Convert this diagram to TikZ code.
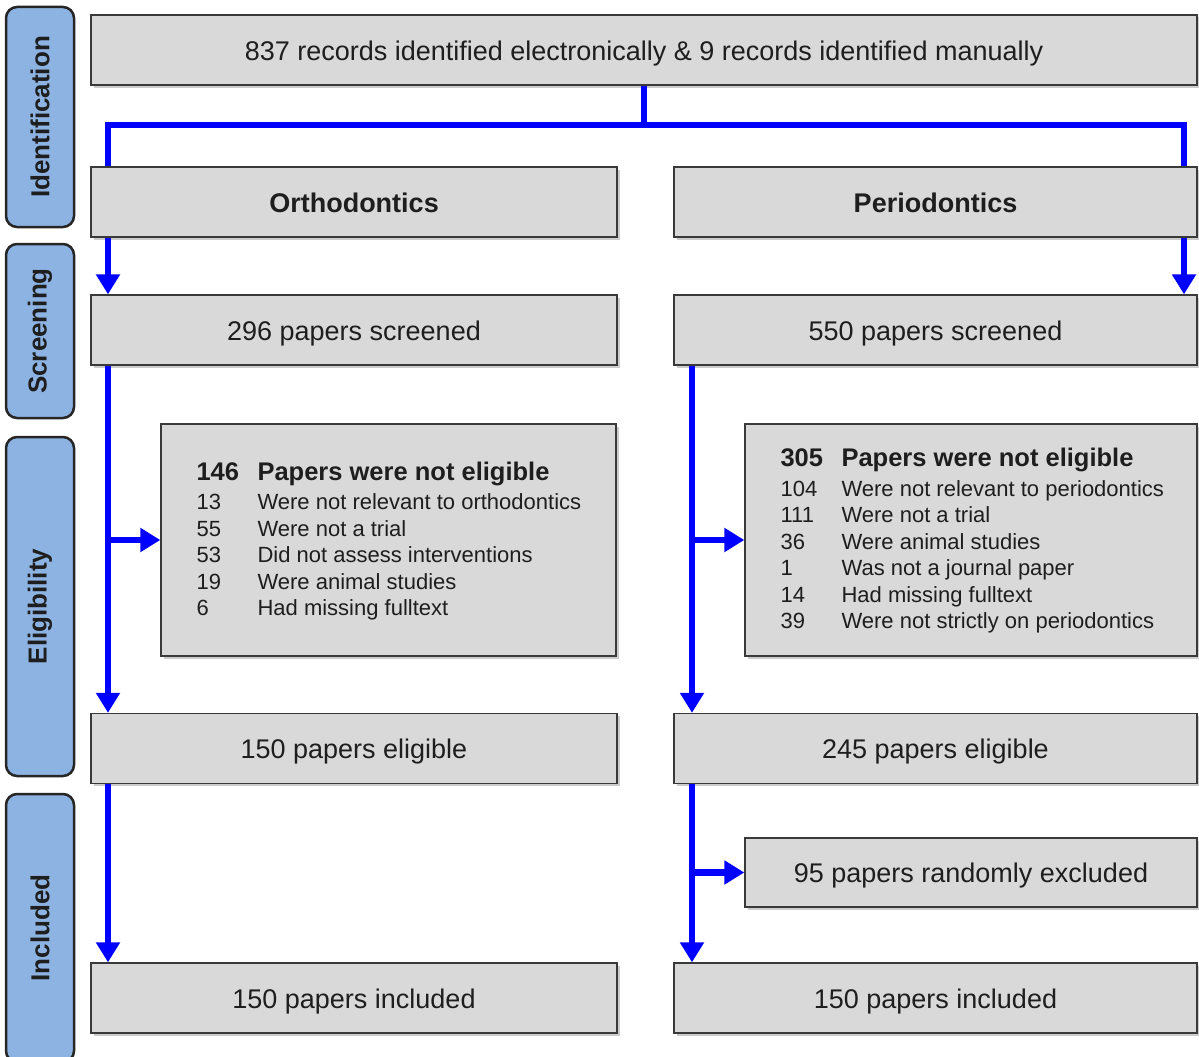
\documentclass[tikz,border=0pt]{standalone}
\usepackage{fontspec}
\setmainfont{Liberation Sans}
\usetikzlibrary{arrows.meta,shadows}
\definecolor{boxfill}{HTML}{D9D9D9}
\definecolor{boxline}{HTML}{3A3A3A}
\definecolor{sidefill}{HTML}{8DB3E2}
\definecolor{sideline}{HTML}{262626}
\definecolor{flowblue}{HTML}{0000FF}
\definecolor{txt}{HTML}{1E1E1E}
\begin{document}
\begin{tikzpicture}[x=1pt,y=-1pt,
  box/.style={draw=boxline, line width=1.3pt, fill=boxfill, inner sep=0pt, text=txt,
    font=\fontsize{27}{32}\selectfont, text height=20pt, text depth=0pt,
    drop shadow={shadow xshift=2.5pt, shadow yshift=-2.5pt, opacity=0.4}},
  boldbox/.style={box, font=\bfseries\fontsize{27}{32}\selectfont},
  side/.style={draw=sideline, line width=2.5pt, fill=sidefill, rounded corners=11pt,
    rotate=90, inner sep=0pt, font=\bfseries\fontsize{26}{30}\selectfont, text=txt,
    minimum height=68pt},
  flowline/.style={draw=flowblue, line width=6.5pt, line join=miter},
  flowarrow/.style={flowline, -{Triangle[length=20pt,width=23pt]}},
  list/.style={anchor=west, align=left, inner sep=0pt, text=txt,
    font=\fontsize{22}{26.5}\selectfont}
]
\clip (0,0) rectangle (1199,1057);
\fill[white] (0,0) rectangle (1199,1057);

% stage labels
\node[side, minimum width=220pt] (sid) at (40,117) {Identification};
\node[side, minimum width=174pt] (sscr) at (40,331) {Screening};
\node[side, minimum width=339pt] (selig) at (40,606.5) {Eligibility};
\node[side, minimum width=268pt] (sinc) at (40,928) {Included};

% coordinates of the connector lanes
\coordinate (busL) at (108,125);
\coordinate (busR) at (1184,125);
\coordinate (laneR) at (692,0);

% boxes
\node[box, minimum width=1106pt, minimum height=70pt] (top) at (644,50)
  {837 records identified electronically \& 9 records identified manually};
\node[boldbox, minimum width=526pt, minimum height=70pt] (ortho) at (354,202) {Orthodontics};
\node[boldbox, minimum width=523pt, minimum height=70pt] (perio) at (935.5,202) {Periodontics};
\node[box, minimum width=526pt, minimum height=70pt] (scrL) at (354,330) {296 papers screened};
\node[box, minimum width=523pt, minimum height=70pt] (scrR) at (935.5,330) {550 papers screened};
\node[box, minimum width=455pt, minimum height=232pt] (exL) at (388.5,540) {};
\node[box, minimum width=452pt, minimum height=232pt] (exR) at (971,540) {};
\node[box, minimum width=526pt, minimum height=70pt] (eliL) at (354,748.5) {150 papers eligible};
\node[box, minimum width=523pt, minimum height=70pt] (eliR) at (935.5,748.5) {245 papers eligible};
\node[box, minimum width=452pt, minimum height=69pt] (rand) at (971,872.5) {95 papers randomly excluded};
\node[box, minimum width=526pt, minimum height=70pt] (incL) at (354,998) {150 papers included};
\node[box, minimum width=523pt, minimum height=70pt] (incR) at (935.5,998) {150 papers included};

% exclusion lists
\node[list] (exLt) at ([xshift=36pt,yshift=-1pt]exL.west)
  {{\bfseries\fontsize{25.5}{30}\selectfont\makebox[61pt][l]{146}Papers were not eligible}\\[3pt]
   \makebox[61pt][l]{13}Were not relevant to orthodontics\\
   \makebox[61pt][l]{55}Were not a trial\\
   \makebox[61pt][l]{53}Did not assess interventions\\
   \makebox[61pt][l]{19}Were animal studies\\
   \makebox[61pt][l]{6}Had missing fulltext};
\node[list] (exRt) at ([xshift=36pt,yshift=-1pt]exR.west)
  {{\bfseries\fontsize{25.5}{30}\selectfont\makebox[61pt][l]{305}Papers were not eligible}\\[3pt]
   \makebox[61pt][l]{104}Were not relevant to periodontics\\
   \makebox[61pt][l]{111}Were not a trial\\
   \makebox[61pt][l]{36}Were animal studies\\
   \makebox[61pt][l]{1}Was not a journal paper\\
   \makebox[61pt][l]{14}Had missing fulltext\\
   \makebox[61pt][l]{39}Were not strictly on periodontics};

% connectors
\draw[flowline] (top.south) -- (top.south |- busL);
\draw[flowline] (ortho.north -| busL) |- (busR) -- (perio.north -| busR);
\draw[flowarrow] (ortho.south -| busL) -- (scrL.north -| busL);
\draw[flowarrow] (perio.south -| busR) -- (scrR.north -| busR);
\draw[flowarrow] (scrL.south -| busL) -- (eliL.north -| busL);
\draw[flowarrow] (exL.west -| busL) -- (exL.west);
\draw[flowarrow] (scrR.south -| laneR) -- (eliR.north -| laneR);
\draw[flowarrow] (exR.west -| laneR) -- (exR.west);
\draw[flowarrow] (eliL.south -| busL) -- (incL.north -| busL);
\draw[flowarrow] (eliR.south -| laneR) -- (incR.north -| laneR);
\draw[flowarrow] (rand.west -| laneR) -- (rand.west);
\end{tikzpicture}
\end{document}
